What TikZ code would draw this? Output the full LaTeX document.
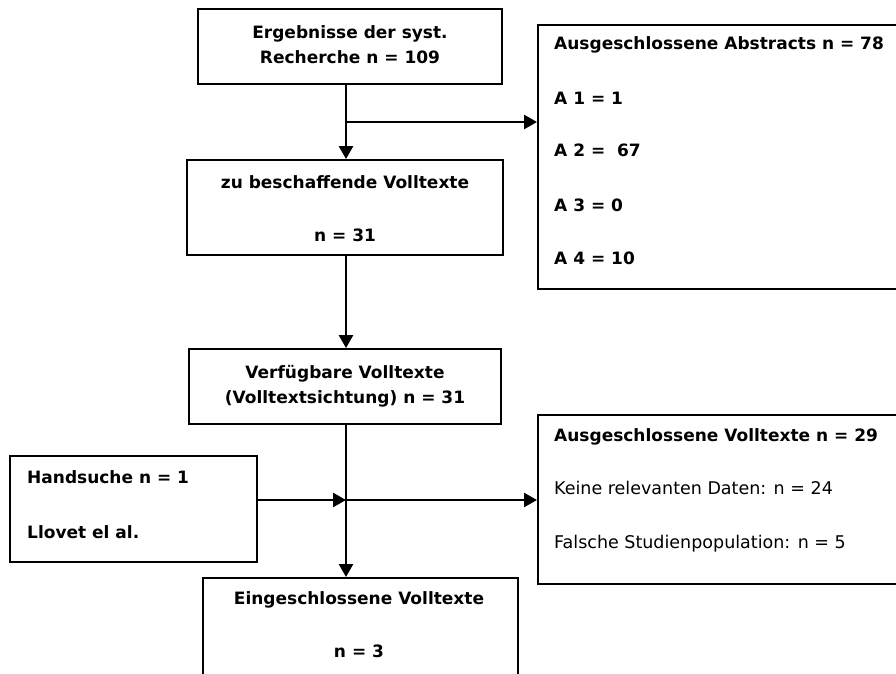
\documentclass[tikz,border=0pt]{standalone}
\usepackage{fontspec}
\setmainfont{DejaVu Sans}
\usetikzlibrary{arrows.meta}
\begin{document}
\begin{tikzpicture}[x=1pt,y=-1pt,
  box/.style={draw, line width=1.9pt, inner sep=0pt},
  head/.style={font=\fontsize{17}{20}\selectfont\bfseries, anchor=base, inner sep=0pt},
  plain/.style={font=\fontsize{17.5}{20}\selectfont, anchor=base, inner sep=0pt},
  flow/.style={line width=2.6pt, -{Triangle[length=13pt,width=14pt]}}]
\clip (0,0) rectangle (896,673);

% boxes
\node[box, minimum width=304pt, minimum height=75pt] (recherche) at (350,46.5) {};
\node[box, minimum width=400pt, minimum height=264pt, anchor=north west] (abstracts) at (537,24) {};
\node[box, minimum width=316pt, minimum height=95pt] (beschaffen) at (345,207.5) {};
\node[box, minimum width=312pt, minimum height=75pt] (verfuegbar) at (345,386.5) {};
\node[box, minimum width=247pt, minimum height=106pt] (hand) at (133.5,509) {};
\node[box, minimum width=400pt, minimum height=169pt, anchor=north west] (ausvoll) at (537,414) {};
\node[box, minimum width=315pt, minimum height=120pt, anchor=north west] (einge) at (202,577) {};

% texts
\node[head] (t1a) at (350,38) {Ergebnisse der syst.};
\node[head] (t1b) at (350,63) {Recherche n = 109};

\node[head, anchor=base west] (ta0) at (554,49) {Ausgeschlossene Abstracts n = 78};
\node[head, anchor=base west] (ta1) at (554,104) {A 1 = 1};
\node[head, anchor=base west] (ta2) at (554,156) {A 2 = \ 67};
\node[head, anchor=base west] (ta3) at (554,211) {A 3 = 0};
\node[head, anchor=base west] (ta4) at (554,264) {A 4 = 10};

\node[head] (t2a) at (345,188) {zu beschaffende Volltexte};
\node[head] (t2b) at (345,241) {n = 31};

\node[head] (t3a) at (345,378) {Verfügbare Volltexte};
\node[head] (t3b) at (345,403) {(Volltextsichtung) n = 31};

\node[head, anchor=base west] (th1) at (27,483) {Handsuche n = 1};
\node[head, anchor=base west] (th2) at (27,538) {Llovet el al.};

\node[head, anchor=base west] (tv0) at (554,441) {Ausgeschlossene Volltexte n = 29};
\node[plain, anchor=base west] (tv1) at (554,494) {Keine relevanten Daten: n = 24};
\node[plain, anchor=base west] (tv2) at (554,548) {Falsche Studienpopulation: n = 5};

\node[head] (t4a) at (359,604) {Eingeschlossene Volltexte};
\node[head] (t4b) at (359,657) {n = 3};

% connectors along the main spine
\coordinate (spine) at (346,0);
\coordinate (j1) at (346,122);
\coordinate (j2) at (346,500);
\draw[flow] (spine |- recherche.south) -- (spine |- beschaffen.north);
\draw[flow] (j1) -- (j1 -| abstracts.west);
\draw[flow] (spine |- beschaffen.south) -- (spine |- verfuegbar.north);
\draw[flow] (spine |- verfuegbar.south) -- (spine |- einge.north);
\draw[flow] (hand.east |- j2) -- (j2);
\draw[flow] (j2) -- (j2 -| ausvoll.west);
\end{tikzpicture}
\end{document}
